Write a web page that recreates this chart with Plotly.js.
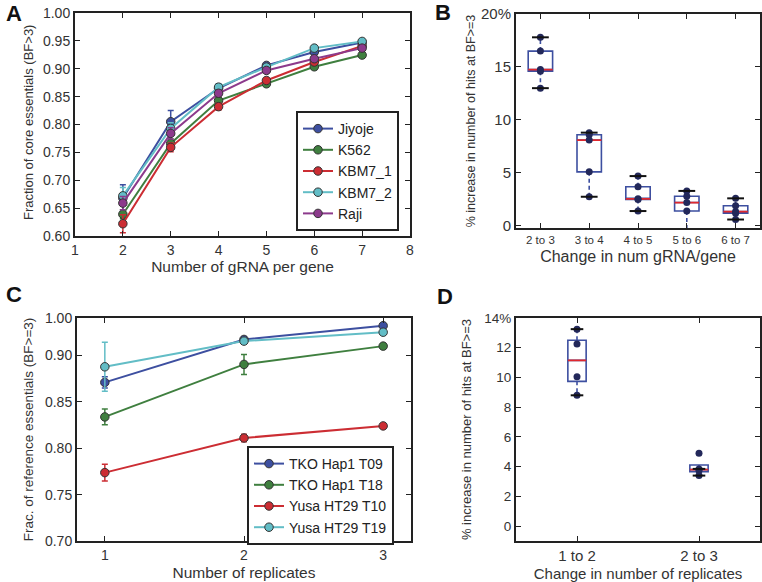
<!DOCTYPE html>
<html>
<head>
<meta charset="utf-8">
<script src="https://cdn.plot.ly/plotly-3.0.1.min.js"></script>
<style>html,body{margin:0;padding:0;background:#fff;}#chart{width:762px;height:582px;}</style>
</head>
<body>
<div id="chart"></div>
<script>
// ---------- Panel A data ----------
const gRNA = [2, 3, 4, 5, 6, 7];
const aXTicks = [1, 2, 3, 4, 5, 6, 7, 8];
const aYTicks = [0.60, 0.65, 0.70, 0.75, 0.80, 0.85, 0.90, 0.95, 1.00];
const aYText = ['0.60', '0.65', '0.70', '0.75', '0.80', '0.85', '0.90', '0.95', '1.00'];
const jiyoje    = [0.668, 0.805, 0.865, 0.906, 0.930, 0.947];
const jiyojeErr = [0.024, 0.020, 0.007, 0.004, 0.004, 0.004];
const k562      = [0.639, 0.766, 0.843, 0.873, 0.9035, 0.9245];
const k562Err   = [0.008, 0.008, 0.006, 0.005, 0.005, 0.004];
const kbm7_1    = [0.622, 0.759, 0.832, 0.879, 0.912, 0.941];
const kbm7_1Err = [0.016, 0.008, 0.006, 0.004, 0.004, 0.003];
const kbm7_2    = [0.672, 0.793, 0.867, 0.903, 0.937, 0.949];
const kbm7_2Err = [0.015, 0.010, 0.006, 0.004, 0.004, 0.004];
const raji      = [0.659, 0.784, 0.856, 0.897, 0.918, 0.937];
const rajiErr   = [0.012, 0.010, 0.005, 0.004, 0.004, 0.004];

// ---------- Panel B data ----------
const bCats = ['2 to 3', '3 to 4', '4 to 5', '5 to 6', '6 to 7'];
const b23 = [17.8, 16.5, 14.75, 14.6, 13.0];
const b34 = [8.8, 8.6, 8.1, 5.1, 2.75];
const b45 = [4.7, 3.7, 2.55, 2.5, 1.4];
const b56 = [3.3, 2.8, 2.2, 1.4, -0.6];
const b67 = [2.6, 1.9, 1.35, 1.2, 0.6];
const bTickVals = [0, 5, 10, 15, 20];
const bTickText = ['0', '5', '10', '15', '20%'];

// ---------- Panel C data ----------
const reps = [1, 2, 3];
const t09 = [0.8709, 0.9172, 0.932];
const t09Err = [0.006, 0.003, 0];
const t18 = [0.8337, 0.8903, 0.910];
const t18Err = [0.0085, 0.0108, 0];
const t10 = [0.7737, 0.811, 0.824];
const t10Err = [0.009, 0.004, 0];
const t19 = [0.8877, 0.9154, 0.925];
const t19Err = [0.0264, 0.003, 0];
const cTickVals = [0.70, 0.75, 0.80, 0.85, 0.90, 0.9403];
const cTickText = ['0.70', '0.75', '0.80', '0.85', '0.90', '1.00'];

// ---------- Panel D data ----------
const dCats = ['1 to 2', '2 to 3'];
const d12 = [13.25, 12.25, 10.05, 8.8];
const d23 = [4.9, 3.85, 3.75, 3.4];
const dTickVals = [0, 2, 4, 6, 8, 10, 12, 14];
const dTickText = ['0', '2', '4', '6', '8', '10', '12', '14%'];

// ---------- helpers ----------
const W = 762, H = 582;
const px = v => v / W;
const py = v => 1 - v / H;
const FONT = 'Liberation Sans, Arial, sans-serif';
const TXT = '#333';
const C_BLUE = '#3d4fa0', C_GREEN = '#3f7f3f', C_RED = '#cc2d33', C_CYAN = '#62bdc6', C_PURPLE = '#8c3a8c';

function pct(arr, p) {
  const s = arr.slice().sort((a, b) => a - b);
  const idx = p * (s.length - 1);
  const lo = Math.floor(idx), hi = Math.ceil(idx);
  return s[lo] + (s[hi] - s[lo]) * (idx - lo);
}
function stats(arr) {
  const q1 = pct(arr, 0.25), med = pct(arr, 0.5), q3 = pct(arr, 0.75);
  const iqr = q3 - q1;
  const hiW = Math.max(...arr.filter(v => v <= q3 + 1.5 * iqr));
  const loW = Math.min(...arr.filter(v => v >= q1 - 1.5 * iqr));
  return {q1, med, q3, hiW, loW};
}

function lineTrace(x, y, err, name, color, xa, ya, legend) {
  return {
    type: 'scatter', mode: 'lines+markers', x, y, name,
    xaxis: xa, yaxis: ya, legend: legend,
    line: {color, width: 2},
    marker: {color, size: 8.5, line: {color: '#333', width: 1}},
    error_y: {type: 'data', array: err, visible: true, color, thickness: 1.5, width: 3},
    cliponaxis: false
  };
}

// box panel builder
function boxTraces(groups, xa, ya, boxW, capPx) {
  const pos = groups.map((g, i) => i + 1);
  const st = groups.map(stats);
  const traces = [];
  traces.push({
    type: 'box', x: pos, xaxis: xa, yaxis: ya, showlegend: false,
    q1: st.map(s => s.q1), median: st.map(s => s.med), q3: st.map(s => s.q3),
    lowerfence: st.map(s => s.q1), upperfence: st.map(s => s.q3),
    width: boxW, whiskerwidth: 0, boxpoints: false,
    line: {color: C_BLUE, width: 1.6}, fillcolor: 'rgba(255,255,255,0)', hoverinfo: 'skip'
  });
  const wx = [], wy = [];
  st.forEach((s, i) => {
    wx.push(pos[i], pos[i], null, pos[i], pos[i], null);
    wy.push(s.q3, s.hiW, null, s.q1, s.loW, null);
  });
  traces.push({
    type: 'scatter', mode: 'lines', x: wx, y: wy, xaxis: xa, yaxis: ya, showlegend: false,
    line: {color: C_BLUE, width: 1.6, dash: '4px,3px'}, cliponaxis: false, hoverinfo: 'skip'
  });
  traces.push({
    type: 'box', x: pos, xaxis: xa, yaxis: ya, showlegend: false,
    q1: st.map(s => s.med), median: st.map(s => s.med), q3: st.map(s => s.med),
    lowerfence: st.map(s => s.med), upperfence: st.map(s => s.med),
    width: boxW, whiskerwidth: 0, boxpoints: false,
    line: {color: '#e0282e', width: 1.8}, fillcolor: 'rgba(0,0,0,0)', hoverinfo: 'skip'
  });
  const px_ = [], py_ = [];
  groups.forEach((g, i) => g.forEach(v => { px_.push(pos[i]); py_.push(v); }));
  traces.push({
    type: 'scatter', mode: 'markers', x: px_, y: py_, xaxis: xa, yaxis: ya, showlegend: false,
    marker: {color: '#23285a', size: 7}, cliponaxis: false, hoverinfo: 'skip'
  });
  const cx = [], cy = [];
  st.forEach((s, i) => { cx.push(pos[i], pos[i]); cy.push(s.hiW, s.loW); });
  traces.push({
    type: 'scatter', mode: 'markers', x: cx, y: cy, xaxis: xa, yaxis: ya, showlegend: false,
    marker: {symbol: 'line-ew', size: capPx, color: '#111', line: {color: '#111', width: 2}},
    cliponaxis: false, hoverinfo: 'skip'
  });
  return traces;
}

const data = [
  lineTrace(gRNA, jiyoje, jiyojeErr, 'Jiyoje', C_BLUE, 'x', 'y', 'legend'),
  lineTrace(gRNA, k562, k562Err, 'K562', C_GREEN, 'x', 'y', 'legend'),
  lineTrace(gRNA, kbm7_1, kbm7_1Err, 'KBM7_1', C_RED, 'x', 'y', 'legend'),
  lineTrace(gRNA, kbm7_2, kbm7_2Err, 'KBM7_2', C_CYAN, 'x', 'y', 'legend'),
  lineTrace(gRNA, raji, rajiErr, 'Raji', C_PURPLE, 'x', 'y', 'legend'),
  lineTrace(reps, t09, t09Err, 'TKO Hap1 T09', C_BLUE, 'x3', 'y3', 'legend2'),
  lineTrace(reps, t18, t18Err, 'TKO Hap1 T18', C_GREEN, 'x3', 'y3', 'legend2'),
  lineTrace(reps, t10, t10Err, 'Yusa HT29 T10', C_RED, 'x3', 'y3', 'legend2'),
  lineTrace(reps, t19, t19Err, 'Yusa HT29 T19', C_CYAN, 'x3', 'y3', 'legend2'),
  ...boxTraces([b23, b34, b45, b56, b67], 'x2', 'y2', 0.5, 12),
  ...boxTraces([d12, d23], 'x4', 'y4', 0.15, 9)
];

function ax(extra) {
  return Object.assign({
    showline: true, linecolor: '#222', linewidth: 2, mirror: 'ticks',
    ticks: 'inside', ticklen: 5, tickwidth: 1, tickcolor: '#222',
    showgrid: false, zeroline: false, automargin: false,
    tickfont: {family: FONT, size: 14, color: TXT}
  }, extra);
}
function ttl(text, size, standoff) { return {text, standoff, font: {family: FONT, size, color: TXT}}; }

const layout = {
  width: W, height: H,
  margin: {l: 0, r: 0, t: 0, b: 0},
  paper_bgcolor: '#fff', plot_bgcolor: '#fff',
  font: {family: FONT, color: TXT},
  showlegend: true,
  xaxis: ax({domain: [px(75), px(410)], range: [1, 8], tickvals: aXTicks, anchor: 'y',
             title: ttl('Number of gRNA per gene', 15.5, 3)}),
  yaxis: ax({domain: [py(236), py(13)], range: [0.6, 1.0], tickvals: aYTicks, ticktext: aYText, anchor: 'x'}),
  xaxis2: ax({domain: [px(516), px(760)], range: [0.5, 5.5], tickvals: [1, 2, 3, 4, 5], ticktext: bCats, anchor: 'y2',
              tickfont: {family: FONT, size: 11.5, color: TXT},
              title: ttl('Change in num gRNA/gene', 16, 6)}),
  yaxis2: ax({domain: [py(228), py(14)], range: [-0.2, 20], tickvals: bTickVals, ticktext: bTickText, anchor: 'x2',
              tickfont: {family: FONT, size: 15, color: TXT},
              title: ttl('% increase in number of hits at BF>=3', 12.5, 3)}),
  xaxis3: ax({domain: [px(77), px(411)], range: [0.8, 3.2], tickvals: reps, anchor: 'y3',
              title: ttl('Number of replicates', 15.5, 5)}),
  yaxis3: ax({domain: [py(541), py(318)], range: [0.70, 0.9403], tickvals: cTickVals, ticktext: cTickText, anchor: 'x3',
              title: ttl('Frac. of reference essentials (BF>=3)', 13.5, 8)}),
  xaxis4: ax({domain: [px(516), px(760)], range: [0.5, 2.5], tickvals: [1, 2], ticktext: dCats, anchor: 'y4',
              tickfont: {family: FONT, size: 15, color: TXT},
              title: ttl('Change in number of replicates', 15, 6)}),
  yaxis4: ax({domain: [py(541), py(318)], range: [-1, 14], tickvals: dTickVals, ticktext: dTickText, anchor: 'x4',
              tickfont: {family: FONT, size: 13.5, color: TXT},
              title: ttl('% increase in number of hits at BF>=3', 13, 10)}),
  legend: {x: px(296), y: py(111), xanchor: 'left', yanchor: 'top',
           bgcolor: '#fff', bordercolor: '#222', borderwidth: 2,
           font: {family: FONT, size: 14, color: '#222'}, itemwidth: 30, tracegroupgap: 0},
  legend2: {x: px(247), y: py(446), xanchor: 'left', yanchor: 'top',
            bgcolor: '#fff', bordercolor: '#222', borderwidth: 2,
            font: {family: FONT, size: 14, color: '#222'}, itemwidth: 30, tracegroupgap: 0},
  annotations: [
    {text: '<b>A</b>', x: px(14), y: py(13), font: {family: FONT, size: 22, color: '#111'}},
    {text: '<b>B</b>', x: px(443), y: py(12), font: {family: FONT, size: 22, color: '#111'}},
    {text: '<b>C</b>', x: px(14), y: py(294), font: {family: FONT, size: 22, color: '#111'}},
    {text: '<b>D</b>', x: px(445), y: py(296), font: {family: FONT, size: 22, color: '#111'}},
    {text: 'Fraction of core essentials (BF>3)', x: px(28), y: py(123), textangle: -90,
     font: {family: FONT, size: 13, color: TXT}}
  ].map(a => Object.assign({xref: 'paper', yref: 'paper', showarrow: false, xanchor: 'center', yanchor: 'middle'}, a))
};

Plotly.newPlot('chart', data, layout, {staticPlot: true});
</script>
</body>
</html>
